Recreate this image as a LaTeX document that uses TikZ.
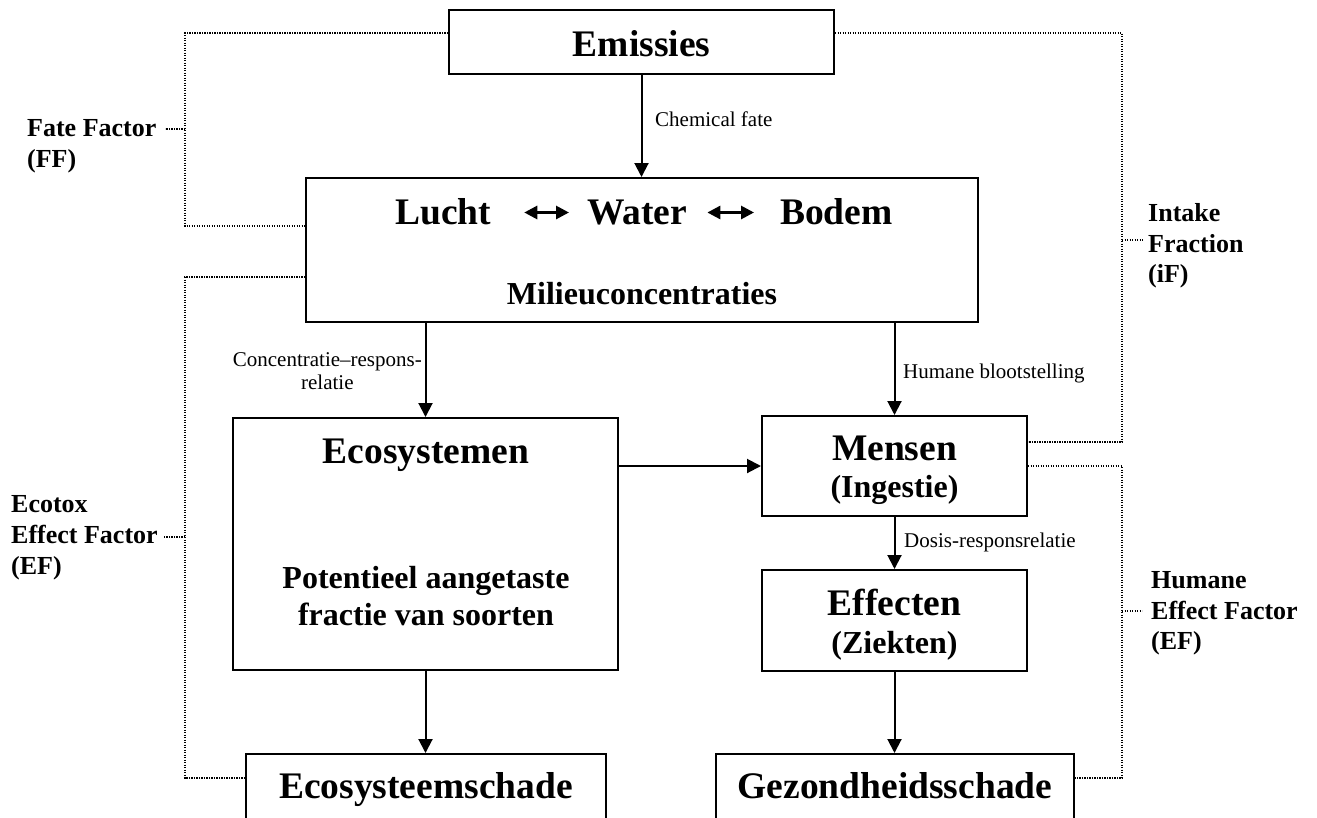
\documentclass[tikz,border=0pt]{standalone}
\usepackage{fontspec}
\setmainfont{Liberation Serif}
\usetikzlibrary{arrows.meta}
\tikzset{
  box/.style={draw, line width=2pt, rectangle, inner sep=0pt},
  big/.style={font=\bfseries\fontsize{37.5}{44}\selectfont, inner sep=0pt},
  mid/.style={font=\bfseries\fontsize{32}{37}\selectfont, inner sep=0pt},
  lbl/.style={font=\fontsize{21}{23.3}\selectfont, inner sep=0pt},
  side/.style={font=\bfseries\fontsize{26}{30.7}\selectfont, inner sep=0pt, align=left, anchor=north west},
  arr/.style={line width=2pt, -{Triangle[length=14pt,width=14pt]}},
  dbl/.style={line width=2.8pt, {Triangle[length=13pt,width=13pt]}-{Triangle[length=13pt,width=13pt]}},
  dot/.style={line width=1.3pt, dash pattern=on 1.3pt off 1.2pt},
}
\begin{document}
\begin{tikzpicture}[x=1pt,y=-1pt]
\useasboundingbox (0,0) rectangle (1317,817);
\clip (0,0) rectangle (1317,817);

% boxes
\node[box, minimum width=385pt, minimum height=64pt] (emis) at (641.5,42) {};
\node[box, minimum width=672pt, minimum height=144pt] (lucht) at (642,250) {};
\node[box, minimum width=385pt, minimum height=252pt] (eco) at (425.5,544) {};
\node[box, minimum width=265pt, minimum height=100pt] (mens) at (894.5,466) {};
\node[box, minimum width=265pt, minimum height=101pt] (eff) at (894.5,620.5) {};
\node[box, minimum width=360pt, minimum height=100pt] (ecos) at (426,804) {};
\node[box, minimum width=358pt, minimum height=100pt] (gez) at (895,804) {};

% box texts
\node[big, anchor=base] (temis) at (641.5,56.7) {Emissies};
\node[big, anchor=base west] (tl) at (395,224) {Lucht};
\node[big, anchor=base west] (tw) at (587,224) {Water};
\node[big, anchor=base west] (tb) at (780,224) {Bodem};
\node[mid, anchor=base] (tmil) at (642,304) {Milieuconcentraties};
\node[big, anchor=base] (teco) at (426,463) {Ecosystemen};
\node[mid, anchor=north, align=center] (tpaf) at (426,566.3) {Potentieel aangetaste\\fractie van soorten};
\node[big, anchor=base] (tmens) at (894.5,460) {Mensen};
\node[mid, anchor=base] (ting) at (894.5,497) {(Ingestie)};
\node[big, anchor=base] (teff) at (894.5,615) {Effecten};
\node[mid, anchor=base] (tzie) at (894.5,653) {(Ziekten)};
\node[big, anchor=base] (tecos) at (426,798) {Ecosysteemschade};
\node[big, anchor=base] (tgez) at (895,798) {Gezondheidsschade};

% compartment exchange arrows
\draw[dbl, shorten <=33pt, shorten >=18pt] ([yshift=11.5pt]tl.base east) -- ([yshift=11.5pt]tw.base west);
\draw[dbl, shorten <=20pt, shorten >=26pt] ([yshift=11.5pt]tw.base east) -- ([yshift=11.5pt]tb.base west);

% flow arrows
\draw[arr] (emis.south) -- (emis.south |- lucht.north);
\draw[arr] (eco.north |- lucht.south) -- (eco.north);
\draw[arr] (mens.north |- lucht.south) -- (mens.north);
\draw[arr] (mens.west -| eco.east) -- (mens.west);
\draw[arr] (mens.south) -- (eff.north);
\draw[arr] (eff.south) -- (eff.south |- gez.north);
\draw[arr] (eco.south) -- (eco.south |- ecos.north);

% arrow labels
\node[lbl, anchor=base west] (lcf) at (655,126.7) {Chemical fate};
\node[lbl, anchor=north east, align=center] (lcr) at (422,352.4) {Concentratie–respons-\\relatie};
\node[lbl, anchor=base west] (lhb) at (903,378) {Humane blootstelling};
\node[lbl, anchor=base west] (ldr) at (904,547) {Dosis-responsrelatie};

% side labels
\node[side] (sff) at (27,119.7) {Fate Factor\\(FF)};
\node[side] (sef) at (11,495.7) {Ecotox\\Effect Factor\\(EF)};
\node[side] (sif) at (1148,203.1) {Intake\\Fraction\\(iF)};
\node[side] (shf) at (1151,571.1) {Humane\\Effect Factor\\(EF)};

% dotted brackets
\coordinate (bff) at (185,129);
\coordinate (bef) at (185,537);
\coordinate (bif) at (1122,240);
\coordinate (bhf) at (1122,611);
\draw[dot] ([yshift=9pt]emis.west) -| (bff) |- ([yshift=24pt]lucht.west);
\draw[dot] (bff) -- ++(-20,0);
\draw[dot] ([yshift=-27pt]lucht.west) -| (bef) |- ([yshift=26pt]ecos.west);
\draw[dot] (bef) -- ++(-21,0);
\draw[dot] ([yshift=9pt]emis.east) -| (bif) |- ([yshift=24pt]mens.east);
\draw[dot] (bif) -- ++(21,0);
\draw[dot] (mens.east) -| (bhf) |- ([yshift=26pt]gez.east);
\draw[dot] (bhf) -- ++(20,0);
\end{tikzpicture}
\end{document}
